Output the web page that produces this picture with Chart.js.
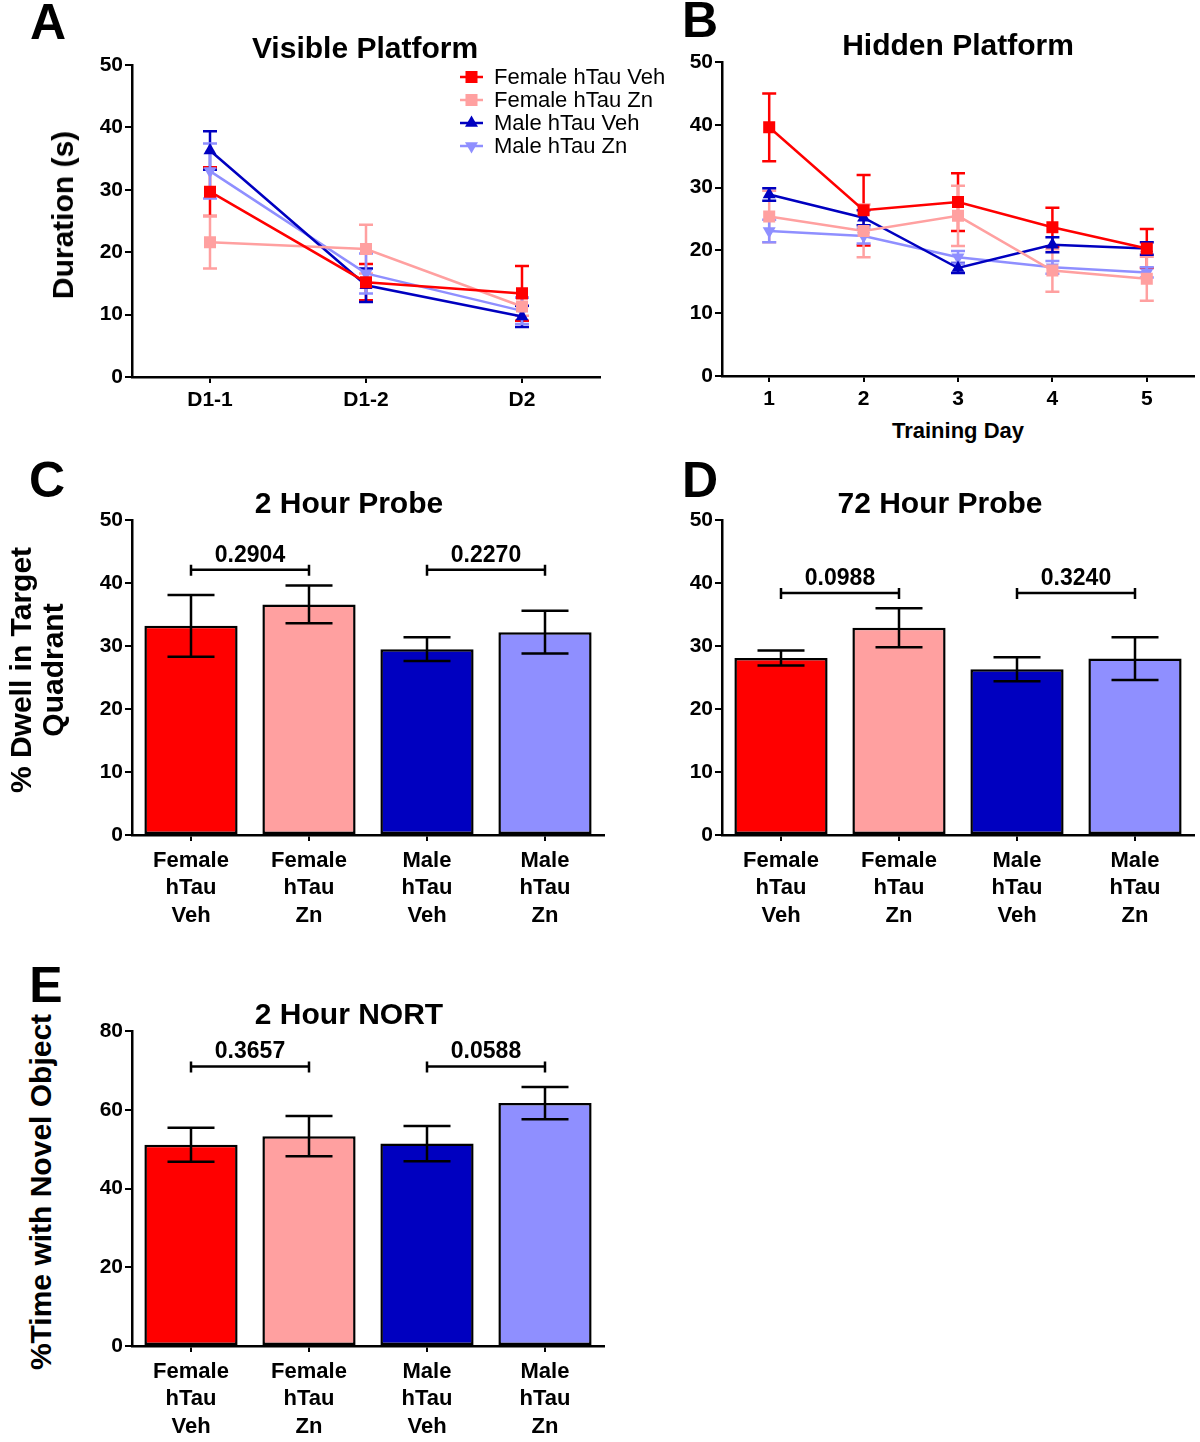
<!DOCTYPE html>
<html lang="en">
<head>
<meta charset="UTF-8">
<title>hTau behaviour panels</title>
<style>
  body { margin: 0; background: #fff; font-family: Arial, "Liberation Sans", sans-serif; }
  #page { position: relative; width: 1200px; height: 1442px; overflow: hidden; background: #fff; }
  canvas { position: absolute; }
  .txt { position: absolute; font-weight: bold; color: #000; white-space: nowrap; line-height: 1; transform: translate(-50%, -50%); }
  .letter { font-size: 50px; }
  .title { font-size: 30px; }
  .xlab { font-size: 22px; }
  .ylab { font-size: 30px; text-align: center; line-height: 32px; transform: translate(-50%, -50%) rotate(-90deg); }
</style>
<script src="https://cdn.jsdelivr.net/npm/chart.js"></script>
</head>
<body>
<div id="page">
  <canvas id="chartA"></canvas>
  <canvas id="chartB"></canvas>
  <canvas id="chartC"></canvas>
  <canvas id="chartD"></canvas>
  <canvas id="chartE"></canvas>

  <div class="txt letter" style="left:48px; top:22px;">A</div>
  <div class="txt letter" style="left:700px; top:20px;">B</div>
  <div class="txt letter" style="left:47px; top:480px;">C</div>
  <div class="txt letter" style="left:700px; top:480px;">D</div>
  <div class="txt letter" style="left:46px; top:985px;">E</div>

  <div class="txt title" style="left:365px; top:48px;">Visible Platform</div>
  <div class="txt title" style="left:958px; top:45px;">Hidden Platform</div>
  <div class="txt title" style="left:349px; top:503px;">2 Hour Probe</div>
  <div class="txt title" style="left:940px; top:503px;">72 Hour Probe</div>
  <div class="txt title" style="left:349px; top:1014px;">2 Hour NORT</div>

  <div class="txt ylab" style="left:63px; top:215px;">Duration (s)</div>
  <div class="txt ylab" style="left:37px; top:670px;">% Dwell in Target<br>Quadrant</div>
  <div class="txt ylab" style="left:41px; top:1192px;">%Time with Novel Object</div>

  <div class="txt xlab" style="left:958px; top:431px;">Training Day</div>
</div>

<script>
const FONT = 'Arial, "Liberation Sans", sans-serif';

// ---- data ----
const seriesNames = ['Female hTau Veh', 'Female hTau Zn', 'Male hTau Veh', 'Male hTau Zn'];

// A: visible platform (duration, s)
const visibleDays = ['D1-1', 'D1-2', 'D2'];
const visFemaleVeh = [29.7, 15.2, 13.4];
const visFemaleVehErr = [3.9, 2.9, 4.4];
const visFemaleZn = [21.6, 20.5, 11.3];
const visFemaleZnErr = [4.2, 3.9, 1.5];
const visMaleVeh = [36.3, 14.7, 9.7];
const visMaleVehErr = [3.1, 2.7, 1.7];
const visMaleZn = [33.0, 16.6, 10.6];
const visMaleZnErr = [4.4, 3.2, 2.1];

// B: hidden platform (duration, s)
const trainingDays = ['1', '2', '3', '4', '5'];
const hidFemaleVeh = [39.6, 26.4, 27.7, 23.7, 20.3];
const hidFemaleVehErr = [5.4, 5.6, 4.6, 3.1, 3.1];
const hidFemaleZn = [25.4, 23.1, 25.5, 16.8, 15.5];
const hidFemaleZnErr = [4.1, 4.2, 4.8, 3.4, 3.5];
const hidMaleVeh = [28.9, 25.2, 17.2, 20.9, 20.3];
const hidMaleVehErr = [1.0, 1.2, 0.8, 1.2, 1.0];
const hidMaleZn = [23.1, 22.3, 18.9, 17.3, 16.5];
const hidMaleZnErr = [1.8, 1.2, 1.0, 1.0, 0.8];

// C-E: bar panels
const groupLabels = [['Female', 'hTau', 'Veh'], ['Female', 'hTau', 'Zn'], ['Male', 'hTau', 'Veh'], ['Male', 'hTau', 'Zn']];
const probe2h = [33.2, 36.6, 29.5, 32.2];
const probe2hErr = [4.9, 3.0, 1.9, 3.4];
const probe2hP = ['0.2904', '0.2270'];
const probe2hBracket = 42.1;

const probe72h = [28.1, 32.9, 26.3, 28.0];
const probe72hErr = [1.2, 3.1, 1.9, 3.4];
const probe72hP = ['0.0988', '0.3240'];
const probe72hBracket = 38.4;

const nort2h = [51.1, 53.3, 51.4, 61.7];
const nort2hErr = [4.3, 5.1, 4.5, 4.1];
const nort2hP = ['0.3657', '0.0588'];
const nort2hBracket = 71.0;

const comparePairs = [[0, 1], [2, 3]];

// ---- styles ----
const colors = ['#ff0000', '#ffa0a0', '#0000c0', '#8f8fff'];
const markers = [
  { pointStyle: 'rect', rotation: 0, radius: 8.5 },
  { pointStyle: 'rect', rotation: 0, radius: 8.5 },
  { pointStyle: 'triangle', rotation: 0, radius: 7.5 },
  { pointStyle: 'triangle', rotation: 180, radius: 7.5 }
];

// error bars (under the points for lines, over the bars for bars)
const errorBarPlugin = {
  id: 'errorBars',
  beforeDatasetsDraw(chart) { if (chart.config.type === 'line') drawErrors(chart); },
  afterDatasetsDraw(chart) { if (chart.config.type === 'bar') drawErrors(chart); }
};

function drawErrors(chart) {
  const opt = chart.options.plugins.errorBars;
  const ctx = chart.ctx;
  const y = chart.scales.y;
  chart.data.datasets.forEach((ds, i) => {
    if (!ds.errors) return;
    const meta = chart.getDatasetMeta(i);
    ctx.save();
    ctx.lineWidth = opt.lineWidth;
    meta.data.forEach((el, j) => {
      const v = ds.data[j], e = ds.errors[j];
      const x = el.x;
      const yt = y.getPixelForValue(v + e);
      const yb = y.getPixelForValue(v - e);
      ctx.strokeStyle = opt.color || ds.borderColor;
      ctx.beginPath();
      ctx.moveTo(x, yt); ctx.lineTo(x, yb);
      ctx.moveTo(x - opt.cap / 2, yt); ctx.lineTo(x + opt.cap / 2, yt);
      ctx.moveTo(x - opt.cap / 2, yb); ctx.lineTo(x + opt.cap / 2, yb);
      ctx.stroke();
    });
    ctx.restore();
  });
}

// p-value brackets
const bracketPlugin = {
  id: 'brackets',
  afterDraw(chart) {
    const opt = chart.options.plugins.brackets;
    if (!opt || !opt.labels) return;
    const ctx = chart.ctx, x = chart.scales.x, y = chart.scales.y;
    const yy = y.getPixelForValue(opt.level);
    ctx.save();
    ctx.strokeStyle = '#000';
    ctx.fillStyle = '#000';
    ctx.lineWidth = 2.5;
    ctx.font = 'bold 23px ' + FONT;
    ctx.textAlign = 'center';
    ctx.textBaseline = 'alphabetic';
    opt.pairs.forEach(([a, b], k) => {
      const xa = x.getPixelForValue(a), xb = x.getPixelForValue(b);
      ctx.beginPath();
      ctx.moveTo(xa, yy); ctx.lineTo(xb, yy);
      ctx.moveTo(xa, yy - 5); ctx.lineTo(xa, yy + 6);
      ctx.moveTo(xb, yy - 5); ctx.lineTo(xb, yy + 6);
      ctx.stroke();
      ctx.fillText(opt.labels[k], (xa + xb) / 2, yy - 8);
    });
    ctx.restore();
  }
};

// legend for panel A
function drawMarker(ctx, m, x, y) {
  const r = m.radius;
  ctx.beginPath();
  if (m.pointStyle === 'rect') {
    const s = r * Math.SQRT1_2;
    ctx.rect(x - s, y - s, 2 * s, 2 * s);
  } else {
    const dir = m.rotation === 180 ? -1 : 1;
    ctx.moveTo(x, y - dir * r);
    ctx.lineTo(x - r * 0.866, y + dir * r * 0.5);
    ctx.lineTo(x + r * 0.866, y + dir * r * 0.5);
    ctx.closePath();
  }
  ctx.fill();
}

const legendPlugin = {
  id: 'cornerLegend',
  afterDraw(chart) {
    const opt = chart.options.plugins.cornerLegend;
    if (!opt || !opt.show) return;
    const ctx = chart.ctx;
    ctx.save();
    ctx.font = '22px ' + FONT;
    ctx.textBaseline = 'middle';
    chart.data.datasets.forEach((ds, i) => {
      const cy = opt.y - opt.canvasTop + i * 23;
      const x0 = opt.x - opt.left;
      ctx.strokeStyle = ds.borderColor;
      ctx.fillStyle = ds.borderColor;
      ctx.lineWidth = 2.5;
      ctx.beginPath();
      ctx.moveTo(x0, cy); ctx.lineTo(x0 + 23, cy);
      ctx.stroke();
      drawMarker(ctx, markers[i], x0 + 11.5, cy);
      ctx.fillStyle = '#000';
      ctx.fillText(ds.label, x0 + 34, cy + 1);
    });
    ctx.restore();
  }
};

Chart.register(errorBarPlugin, bracketPlugin, legendPlugin);

// ---- layout helpers ----
function placeCanvas(id, box) {
  const c = document.getElementById(id);
  c.width = box.width;
  c.height = box.height;
  c.style.left = box.left + 'px';
  c.style.top = box.top + 'px';
  c.style.width = box.width + 'px';
  c.style.height = box.height + 'px';
  return c.getContext('2d');
}

function yAxis(max, step, box, area) {
  return {
    min: 0,
    max: max,
    ticks: { stepSize: step, color: '#000', font: { family: FONT, size: 21, weight: 'bold' }, padding: 2 },
    grid: { drawOnChartArea: false, color: '#000', lineWidth: 2, tickLength: 7 },
    border: { color: '#000', width: 2.5 },
    afterFit: s => { s.width = area.x0 - box.left; }
  };
}

function xAxis(box, area, fontSize, padding) {
  return {
    offset: true,
    ticks: { color: '#000', font: { family: FONT, size: fontSize, weight: 'bold', lineHeight: 1.25 }, padding: padding, maxRotation: 0, autoSkip: false },
    grid: { drawOnChartArea: false, offset: false, color: '#000', lineWidth: 2, tickLength: 6 },
    border: { color: '#000', width: 2.5 },
    afterFit: s => { s.height = box.top + box.height - area.y1; }
  };
}

function baseOptions(box, area) {
  return {
    responsive: false,
    animation: false,
    devicePixelRatio: 1,
    layout: { padding: { top: area.y0 - box.top, right: box.left + box.width - area.x1, left: 0, bottom: 0 } },
    plugins: { legend: { display: false }, tooltip: { enabled: false } }
  };
}

function lineChart(id, box, area, labels, series, errs, withLegend) {
  const ctx = placeCanvas(id, box);
  const opts = baseOptions(box, area);
  opts.scales = { x: xAxis(box, area, 21, 4), y: yAxis(50, 10, box, area) };
  opts.plugins.errorBars = { lineWidth: 2.5, cap: 14, color: null };
  opts.plugins.cornerLegend = { show: withLegend, x: 460, y: 77, left: box.left, canvasTop: box.top };
  return new Chart(ctx, {
    type: 'line',
    data: {
      labels: labels,
      datasets: series.map((d, i) => ({
        label: seriesNames[i],
        data: d,
        errors: errs[i],
        borderColor: colors[i],
        backgroundColor: colors[i],
        borderWidth: 2.5,
        tension: 0,
        pointStyle: markers[i].pointStyle,
        pointRotation: markers[i].rotation,
        pointRadius: markers[i].radius,
        pointBorderWidth: 0
      }))
    },
    options: opts
  });
}

function barChart(id, box, area, values, errs, max, step, pvals, level) {
  const ctx = placeCanvas(id, box);
  const opts = baseOptions(box, area);
  opts.scales = { x: xAxis(box, area, 22, 6), y: yAxis(max, step, box, area) };
  opts.plugins.errorBars = { lineWidth: 2.5, cap: 47, color: '#000' };
  opts.plugins.brackets = { labels: pvals, pairs: comparePairs, level: level };
  return new Chart(ctx, {
    type: 'bar',
    data: {
      labels: groupLabels,
      datasets: [{
        data: values,
        errors: errs,
        backgroundColor: colors,
        borderColor: '#000',
        borderWidth: 2.5,
        borderSkipped: false,
        categoryPercentage: 1,
        barPercentage: 0.79
      }]
    },
    options: opts
  });
}

// ---- panels ----
lineChart('chartA',
  { left: 0, top: 50, width: 690, height: 370 },
  { x0: 132, y0: 65, x1: 600, y1: 377 },
  visibleDays,
  [visFemaleVeh, visFemaleZn, visMaleVeh, visMaleZn],
  [visFemaleVehErr, visFemaleZnErr, visMaleVehErr, visMaleZnErr],
  true);

lineChart('chartB',
  { left: 650, top: 47, width: 564, height: 365 },
  { x0: 722, y0: 62, x1: 1194, y1: 376 },
  trainingDays,
  [hidFemaleVeh, hidFemaleZn, hidMaleVeh, hidMaleZn],
  [hidFemaleVehErr, hidFemaleZnErr, hidMaleVehErr, hidMaleZnErr],
  false);

barChart('chartC',
  { left: 60, top: 505, width: 545, height: 430 },
  { x0: 132, y0: 520, x1: 604, y1: 835 },
  probe2h, probe2hErr, 50, 10, probe2hP, probe2hBracket);

barChart('chartD',
  { left: 650, top: 505, width: 550, height: 430 },
  { x0: 722, y0: 520, x1: 1194, y1: 835 },
  probe72h, probe72hErr, 50, 10, probe72hP, probe72hBracket);

barChart('chartE',
  { left: 60, top: 1016, width: 545, height: 426 },
  { x0: 132, y0: 1031, x1: 604, y1: 1346 },
  nort2h, nort2hErr, 80, 20, nort2hP, nort2hBracket);
</script>
</body>
</html>
